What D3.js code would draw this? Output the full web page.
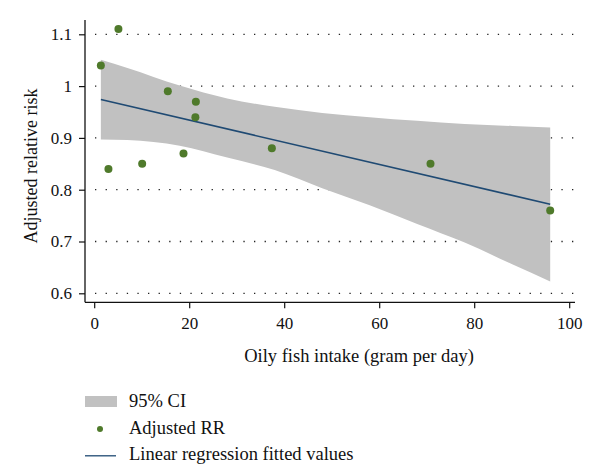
<!DOCTYPE html>
<html>
<head>
<meta charset="utf-8">
<script src="https://cdn.jsdelivr.net/npm/d3@7"></script>
<style>
  body { margin: 0; background: #fff; }
  svg { display: block; font-family: "Liberation Serif", "DejaVu Serif", serif; }
</style>
</head>
<body>
<svg id="chart"></svg>
<script>
// Observed adjusted RR by oily fish intake
const intake = [1.4, 5.1, 3.0, 10.1, 18.8, 15.5, 21.4, 21.3, 37.4, 70.8, 96.0];
const adjustedRR = [1.04, 1.11, 0.84, 0.85, 0.87, 0.99, 0.97, 0.94, 0.88, 0.85, 0.76];

// Fitted line end points
const fitX = [1.4, 96.0];
const fitY = [0.974, 0.772];

// 95% CI band (read along its edges)
const ciX = [1.4, 7, 18, 28, 38, 48, 58, 68, 78, 88, 96];
const ciUpper = [1.051, 1.035, 1.001, 0.976, 0.960, 0.948, 0.940, 0.933, 0.927, 0.923, 0.920];
const ciLower = [0.897, 0.896, 0.885, 0.862, 0.838, 0.803, 0.770, 0.734, 0.698, 0.656, 0.623];

const xTicks = [0, 20, 40, 60, 80, 100];
const yTicks = [0.6, 0.7, 0.8, 0.9, 1.0, 1.1];

const width = 600, height = 467;
const svg = d3.select("#chart").attr("width", width).attr("height", height);

const x = d3.scaleLinear().domain([0, 100]).range([94.2, 569.2]);
const y = d3.scaleLinear().domain([0.6, 1.1]).range([293.3, 34.3]);

const axisX = 85, axisY = 302.3;

// Grid lines (dotted)
svg.append("g")
  .selectAll("line")
  .data(yTicks)
  .join("line")
  .attr("x1", 95).attr("x2", 574)
  .attr("y1", d => y(d)).attr("y2", d => y(d))
  .attr("stroke", "#222")
  .attr("stroke-width", 1.3)
  .attr("stroke-dasharray", "1.3,9.3");

// CI band
const band = ciX.map((v, i) => ({ x: v, lo: ciLower[i], hi: ciUpper[i] }));
svg.append("path")
  .datum(band)
  .attr("fill", "#c1c1c1")
  .attr("d", d3.area()
    .x(d => x(d.x))
    .y0(d => y(d.lo))
    .y1(d => y(d.hi))
    .curve(d3.curveMonotoneX));

// Fitted line
svg.append("path")
  .datum(fitX.map((v, i) => [v, fitY[i]]))
  .attr("fill", "none")
  .attr("stroke", "#1f4a73")
  .attr("stroke-width", 1.6)
  .attr("d", d3.line().x(d => x(d[0])).y(d => y(d[1])));

// Points
svg.append("g")
  .selectAll("circle")
  .data(intake.map((v, i) => [v, adjustedRR[i]]))
  .join("circle")
  .attr("cx", d => x(d[0]))
  .attr("cy", d => y(d[1]))
  .attr("r", 4)
  .attr("fill", "#4f7a2b");

// Axes
const xAxis = svg.append("g")
  .attr("transform", `translate(0,${axisY})`)
  .call(d3.axisBottom(x).tickValues(xTicks).tickSize(6).tickPadding(9).tickFormat(d3.format("d")));
xAxis.select(".domain").attr("d", `M${axisX},0H575`).attr("stroke", "#111").attr("stroke-width", 1.3);

const yAxis = svg.append("g")
  .attr("transform", `translate(${axisX},0)`)
  .call(d3.axisLeft(y).tickValues(yTicks).tickSize(6).tickPadding(7).tickFormat(d => d === 1 ? "1" : d3.format(".1f")(d)));
yAxis.select(".domain").attr("d", `M0,20V${axisY}`).attr("stroke", "#111").attr("stroke-width", 1.3);

svg.selectAll(".tick line").attr("stroke", "#111").attr("stroke-width", 1.2);
svg.selectAll(".tick text")
  .attr("fill", "#111")
  .style("font-family", "'Liberation Serif', 'DejaVu Serif', serif")
  .style("font-size", "17px");

// Axis titles
svg.append("text")
  .attr("x", 359).attr("y", 362)
  .attr("text-anchor", "middle")
  .attr("fill", "#111")
  .style("font-size", "18.5px")
  .text("Oily fish intake (gram per day)");

svg.append("text")
  .attr("transform", "translate(37,166) rotate(-90)")
  .attr("text-anchor", "middle")
  .attr("fill", "#111")
  .style("font-size", "18px")
  .text("Adjusted relative risk");

// Legend
const legend = svg.append("g");
legend.append("rect")
  .attr("x", 85).attr("y", 396).attr("width", 32).attr("height", 11)
  .attr("fill", "#c1c1c1");
legend.append("circle")
  .attr("cx", 100).attr("cy", 429).attr("r", 3)
  .attr("fill", "#4f7a2b");
legend.append("line")
  .attr("x1", 85).attr("x2", 116).attr("y1", 455.8).attr("y2", 455.8)
  .attr("stroke", "#1f4a73").attr("stroke-width", 1.3);

const legendLabels = ["95% CI", "Adjusted RR", "Linear regression fitted values"];
legend.selectAll("text.lab")
  .data(legendLabels)
  .join("text")
  .attr("class", "lab")
  .attr("x", 129)
  .attr("y", (d, i) => 407 + i * 26.5)
  .attr("fill", "#111")
  .style("font-size", "18.5px")
  .text(d => d);
</script>
</body>
</html>
